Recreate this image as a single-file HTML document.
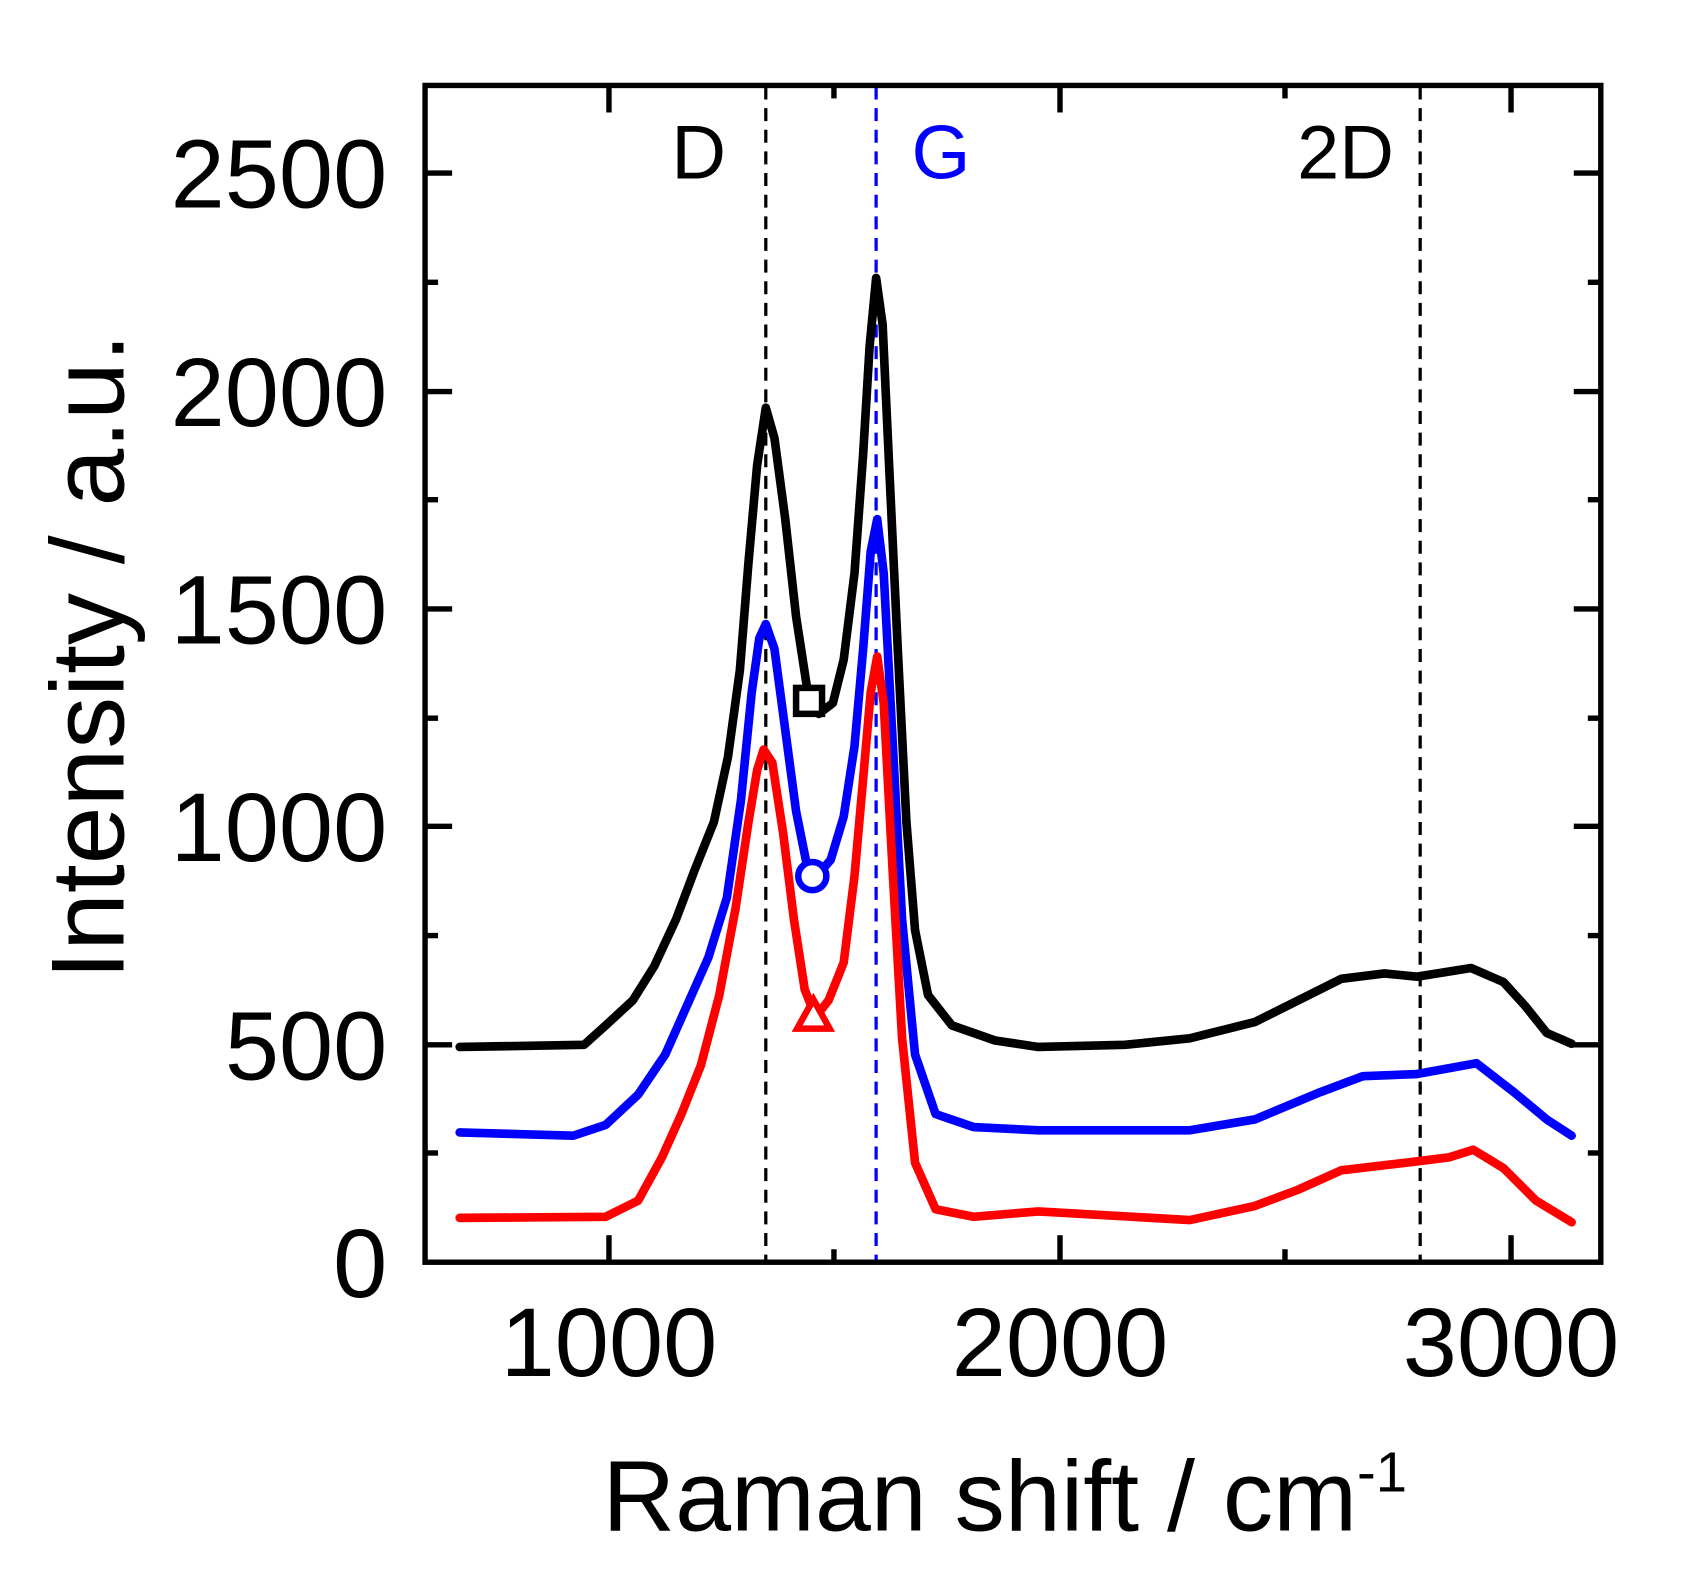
<!DOCTYPE html>
<html><head><meta charset="utf-8"><style>html,body{margin:0;padding:0;background:#fff}svg{display:block}</style></head>
<body>
<svg width="1696" height="1584" viewBox="0 0 1568 1464.5" preserveAspectRatio="none" xmlns="http://www.w3.org/2000/svg" font-family="Liberation Sans, Arial, sans-serif">
<rect width="1568" height="1464.5" fill="#fff"/>
<g stroke-width="3" stroke-dasharray="12,8">
<line x1="708" y1="80" x2="708" y2="1165" stroke="#000"/>
<line x1="810" y1="80" x2="810" y2="1165" stroke="#00f"/>
<line x1="1313" y1="80" x2="1313" y2="1165" stroke="#000"/>
</g>
<g fill="none" stroke-width="8" stroke-linejoin="round" stroke-linecap="round">
<polyline stroke="#000" points="425,968 540,966 560,948 585,925 605,893 625,850 642,805 660,760 673,700 684,620 692,520 700,430 708,377 716,405 726,480 736,570 746,635 757,660 770,650 780,610 790,530 798,420 804,320 810,257 816,300 822,430 830,600 838,760 846,860 858,920 880,948 920,962 960,968 1040,966 1100,960 1160,945 1200,925 1240,905 1280,900 1310,903 1360,895 1390,908 1410,930 1430,955 1453,965"/>
<polyline stroke="#00f" points="425,1047 530,1050 560,1040 590,1012 615,975 635,930 655,885 672,830 685,740 695,640 702,590 708,577 716,600 726,675 736,750 746,800 755,810 768,795 780,755 790,690 798,600 805,510 811,480 817,530 825,680 834,850 846,975 865,1030 900,1042 960,1045 1100,1045 1160,1035 1220,1010 1260,995 1310,993 1365,983 1400,1010 1430,1035 1453,1050"/>
<polyline stroke="#f00" points="425,1126 560,1125 590,1110 612,1070 630,1030 648,985 665,920 680,840 692,760 700,712 706,693 714,705 724,770 734,850 744,915 754,940 766,925 780,890 790,810 798,720 805,640 811,607 817,650 825,800 834,960 846,1075 865,1118 900,1125 960,1120 1100,1128 1160,1115 1200,1100 1240,1082 1300,1075 1340,1070 1362,1063 1390,1080 1420,1110 1453,1130"/>
</g>
<g fill="#fff" stroke-width="6">
<rect x="736" y="636" width="24" height="24" stroke="#000"/>
<circle cx="751" cy="810" r="13" stroke="#00f"/>
<polygon points="752,924 737,951 767,951" stroke="#f00"/>
</g>
<rect x="393" y="79" width="1087" height="1088" fill="none" stroke="#000" stroke-width="5"/>
<g stroke="#000" stroke-width="5">
<line x1="563" y1="1167" x2="563" y2="1142"/><line x1="980" y1="1167" x2="980" y2="1142"/><line x1="1397" y1="1167" x2="1397" y2="1142"/>
<line x1="563" y1="79" x2="563" y2="104"/><line x1="980" y1="79" x2="980" y2="104"/><line x1="1397" y1="79" x2="1397" y2="104"/>
<line x1="771" y1="1167" x2="771" y2="1155"/><line x1="1188" y1="1167" x2="1188" y2="1155"/>
<line x1="771" y1="79" x2="771" y2="91"/><line x1="1188" y1="79" x2="1188" y2="91"/>
<line x1="393" y1="966" x2="418" y2="966"/><line x1="393" y1="764" x2="418" y2="764"/><line x1="393" y1="563" x2="418" y2="563"/><line x1="393" y1="362" x2="418" y2="362"/><line x1="393" y1="160" x2="418" y2="160"/>
<line x1="1480" y1="966" x2="1455" y2="966"/><line x1="1480" y1="764" x2="1455" y2="764"/><line x1="1480" y1="563" x2="1455" y2="563"/><line x1="1480" y1="362" x2="1455" y2="362"/><line x1="1480" y1="160" x2="1455" y2="160"/>
<line x1="393" y1="1066" x2="405" y2="1066"/><line x1="393" y1="865" x2="405" y2="865"/><line x1="393" y1="664" x2="405" y2="664"/><line x1="393" y1="462" x2="405" y2="462"/><line x1="393" y1="261" x2="405" y2="261"/>
<line x1="1480" y1="1066" x2="1468" y2="1066"/><line x1="1480" y1="865" x2="1468" y2="865"/><line x1="1480" y1="664" x2="1468" y2="664"/><line x1="1480" y1="462" x2="1468" y2="462"/><line x1="1480" y1="261" x2="1468" y2="261"/>
</g>
<g font-size="90" text-anchor="end" fill="#000">
<text x="358" y="1199">0</text><text x="358" y="998">500</text><text x="358" y="796">1000</text><text x="358" y="595">1500</text><text x="358" y="394">2000</text><text x="358" y="192">2500</text>
</g>
<g font-size="90" text-anchor="middle" fill="#000">
<text x="563" y="1272">1000</text><text x="980" y="1272">2000</text><text x="1397" y="1272">3000</text>
</g>
<g font-size="70" text-anchor="middle">
<text x="646" y="165" fill="#000">D</text><text x="870" y="165" fill="#00f">G</text><text x="1244" y="165" fill="#000">2D</text>
</g>
<text x="557" y="1415" font-size="93">Raman shift / cm<tspan dy="-36" font-size="52">-1</tspan></text>
<text transform="translate(114,607) rotate(-90)" font-size="96" text-anchor="middle">Intensity / a.u.</text>
</svg>
</body></html>
